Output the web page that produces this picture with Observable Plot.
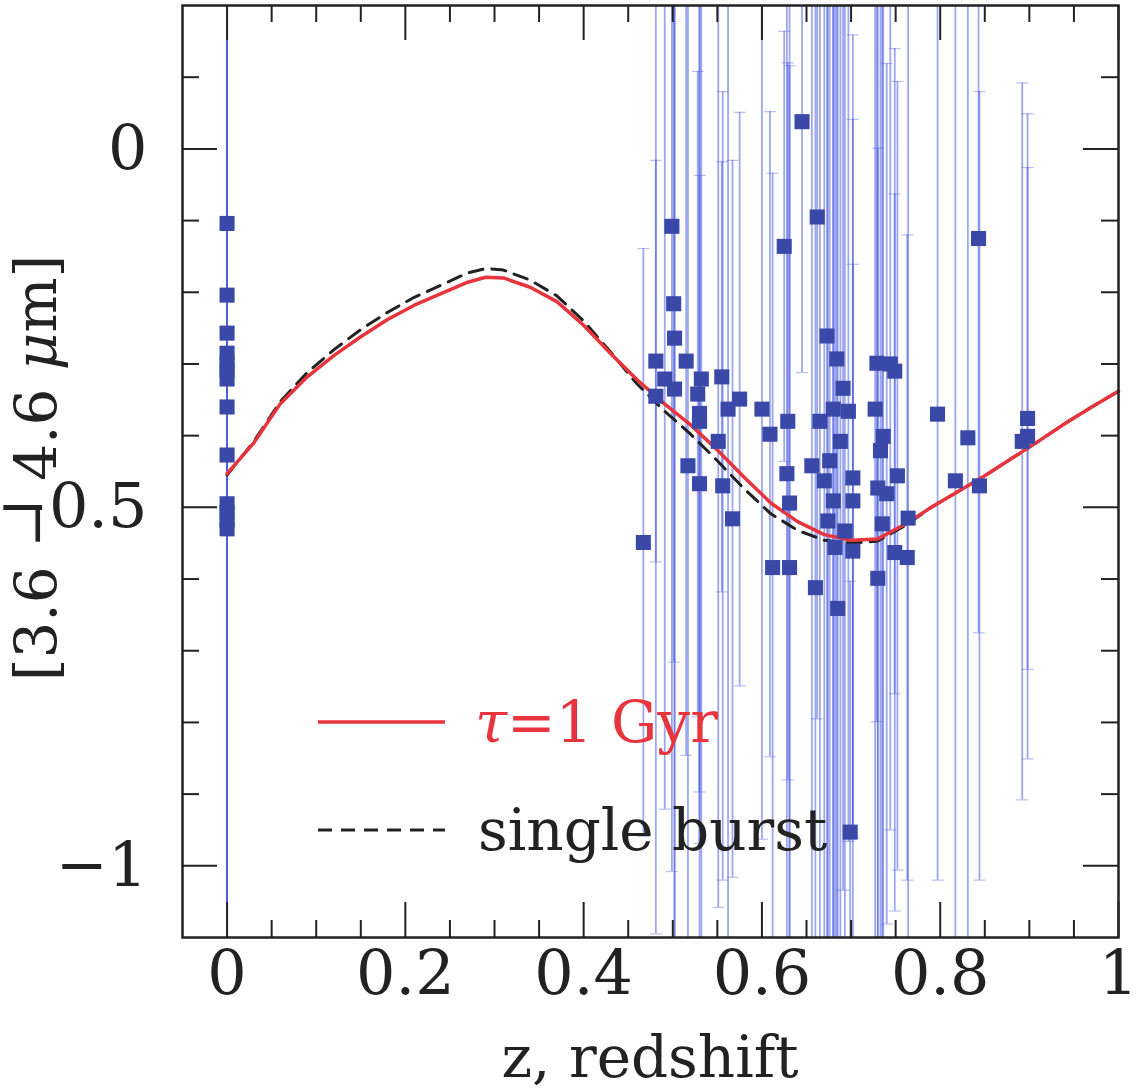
<!DOCTYPE html>
<html><head><meta charset="utf-8">
<script src="https://cdn.jsdelivr.net/npm/d3@7"></script>
<script src="https://cdn.jsdelivr.net/npm/@observablehq/plot@0.6"></script>
<style>body{margin:0;background:#fff}</style>
</head><body><div id="chart"></div>
<script>
// Model tracks
const zModel      = [0, 0.03, 0.06, 0.09, 0.12, 0.15, 0.18, 0.21, 0.24, 0.27, 0.29, 0.31, 0.34, 0.37, 0.40, 0.43, 0.46, 0.49, 0.52, 0.55, 0.58, 0.61, 0.64, 0.67, 0.70, 0.73, 0.76, 0.79, 0.82, 0.85, 0.88, 0.91, 0.94, 0.97, 1.00];
const tau1Gyr     = [-0.453, -0.41, -0.355, -0.318, -0.288, -0.262, -0.238, -0.218, -0.202, -0.186, -0.179, -0.180, -0.193, -0.213, -0.246, -0.285, -0.322, -0.355, -0.385, -0.420, -0.458, -0.494, -0.520, -0.538, -0.546, -0.544, -0.524, -0.500, -0.478, -0.456, -0.432, -0.408, -0.383, -0.360, -0.338];
const singleBurst = [-0.455, -0.408, -0.352, -0.312, -0.280, -0.252, -0.228, -0.207, -0.190, -0.173, -0.167, -0.169, -0.183, -0.205, -0.240, -0.283, -0.328, -0.365, -0.398, -0.435, -0.474, -0.509, -0.532, -0.546, -0.550, -0.547, -0.526, -0.500, -0.478, -0.456, -0.432, -0.408, -0.383, -0.360, -0.338];

// Galaxies: redshift, [3.6]-[4.6] colour, error
const pointZ = [
  0,0,0,0,0,0,0,0,0,0,0,0,0,
  0.467,0.481,0.481,0.491,0.499,0.501,0.502,0.502,0.515,0.517,
  0.530,0.532,0.528,0.530,0.530,0.551,0.555,0.556,0.562,0.567,
  0.575,0.600,0.609,0.625,0.629,0.628,0.631,0.612,0.631,0.645,
  0.656,0.660,0.662,0.673,0.684,0.685,0.691,0.680,0.697,0.676,
  0.702,0.702,0.680,0.693,0.682,0.702,0.699,0.665,0.670,0.688,0.674,
  0.729,0.744,0.749,0.727,0.736,0.733,0.752,0.730,0.740,0.735,
  0.764,0.749,0.763,0.730,0.797,0.831,0.817,0.844,0.843,0.898,0.898,0.892
];
const pointColor = [
  -0.104,-0.204,-0.257,-0.285,-0.299,-0.308,-0.321,-0.360,-0.427,-0.495,-0.507,-0.518,-0.530,
  -0.549,-0.296,-0.345,-0.321,-0.108,-0.216,-0.264,-0.335,-0.296,-0.442,
  -0.369,-0.321,-0.342,-0.380,-0.467,-0.408,-0.318,-0.470,-0.363,-0.516,
  -0.349,-0.363,-0.398,-0.136,-0.380,-0.453,-0.494,-0.584,-0.584,0.038,
  -0.442,-0.612,-0.095,-0.261,-0.293,-0.641,-0.334,-0.363,-0.366,-0.435,
  -0.459,-0.491,-0.491,-0.533,-0.556,-0.561,-0.953,-0.380,-0.463,-0.408,-0.519,
  -0.299,-0.300,-0.310,-0.363,-0.401,-0.421,-0.456,-0.473,-0.481,-0.523,
  -0.515,-0.563,-0.570,-0.599,-0.370,-0.403,-0.463,-0.470,-0.125,-0.376,-0.401,-0.408
];
const pointErr = [
  1.4,1.3,1.3,1.4,1.3,1.3,1.4,1.3,1.4,1.3,1.3,1.4,1.3,
  0.41,0.28,0.75,0.60,0.90,0.50,0.95,0.80,0.55,0.70,
  0.60,0.90,0.45,1.00,0.43,0.65,0.30,0.55,0.80,0.50,
  0.40,0.60,0.45,0.30,0.50,0.70,0.90,0.55,0.70,0.35,
  0.80,1.00,0.70,1.00,0.90,1.10,0.70,1.20,0.60,0.90,
  0.50,0.65,1.00,0.80,1.20,0.40,0.35,0.90,1.00,0.80,1.10,
  0.50,0.65,0.45,0.90,0.80,1.00,0.55,0.75,0.60,0.90,
  0.75,0.50,0.45,0.60,0.65,0.90,0.75,0.55,0.55,0.35,0.45,0.50
];

const xMajorTicks = [0, 0.2, 0.4, 0.6, 0.8, 1];
const xMinorTicks = [0.05, 0.1, 0.15, 0.25, 0.3, 0.35, 0.45, 0.5, 0.55, 0.65, 0.7, 0.75, 0.85, 0.9, 0.95];
const yMajorTicks = [0, -0.5, -1];
const yMinorTicks = [0.1, -0.1, -0.2, -0.3, -0.4, -0.6, -0.7, -0.8, -0.9];

const W = 1136, H = 1090;
const M = {left: 182, right: 18, top: 5, bottom: 153};
const innerW = W - M.left - M.right, innerH = H - M.top - M.bottom;
const FONT = "DejaVu Serif";
const fmt = d3.format("~g");

const model = zModel.map((z, i) => ({z, tau: tau1Gyr[i], burst: singleBurst[i]}));
const points = pointZ.map((z, i) => ({z, c: pointColor[i], e: pointErr[i]}));

const cap = {draw(ctx, size) { const w = Math.sqrt(size / Math.PI); ctx.moveTo(-w, 0); ctx.lineTo(w, 0); }};
const barColor = "#4c5ee0";

const minorLen = 17, majorLen = 35;

const plot = Plot.plot({
  width: W, height: H,
  marginLeft: M.left, marginRight: M.right, marginTop: M.top, marginBottom: M.bottom,
  x: {domain: [-0.05, 1], axis: null},
  y: {domain: [-1.1, 0.2], axis: null},
  style: {fontFamily: FONT, background: "#fff", color: "#222"},
  marks: [
    Plot.ruleX(points, {x: "z", y1: d => d.c - d.e, y2: d => d.c + d.e, stroke: barColor, strokeOpacity: 0.55, strokeWidth: 1.8, clip: true}),
    Plot.dot(points, {x: "z", y: d => d.c + d.e, symbol: cap, r: 6, stroke: barColor, strokeOpacity: 0.4, strokeWidth: 1.2, fill: "none", clip: true}),
    Plot.dot(points, {x: "z", y: d => d.c - d.e, symbol: cap, r: 6, stroke: barColor, strokeOpacity: 0.4, strokeWidth: 1.2, fill: "none", clip: true}),
    Plot.line(model, {x: "z", y: "burst", stroke: "#222", strokeWidth: 3, strokeDasharray: "14,9"}),
    Plot.line(model, {x: "z", y: "tau", stroke: "#e8343c", strokeWidth: 3.5}),
    Plot.dot(points, {x: "z", y: "c", symbol: "square", r: 8.5, fill: "#3a48a8"}),
    // ticks on all four sides, pointing inward
    Plot.ruleX(xMinorTicks, {x: d => d, insetTop: innerH - minorLen, stroke: "#222", strokeWidth: 2}),
    Plot.ruleX(xMinorTicks, {x: d => d, insetBottom: innerH - minorLen, stroke: "#222", strokeWidth: 2}),
    Plot.ruleX(xMajorTicks, {x: d => d, insetTop: innerH - majorLen, stroke: "#222", strokeWidth: 2}),
    Plot.ruleX(xMajorTicks, {x: d => d, insetBottom: innerH - majorLen, stroke: "#222", strokeWidth: 2}),
    Plot.ruleY(yMinorTicks, {y: d => d, insetRight: innerW - minorLen, stroke: "#222", strokeWidth: 2}),
    Plot.ruleY(yMinorTicks, {y: d => d, insetLeft: innerW - minorLen, stroke: "#222", strokeWidth: 2}),
    Plot.ruleY(yMajorTicks, {y: d => d, insetRight: innerW - majorLen, stroke: "#222", strokeWidth: 2}),
    Plot.ruleY(yMajorTicks, {y: d => d, insetLeft: innerW - majorLen, stroke: "#222", strokeWidth: 2}),
    Plot.frame({stroke: "#222", strokeWidth: 2.5}),
    Plot.axisX(xMajorTicks, {tickSize: 0, tickPadding: 12, fontSize: 62, label: null, fill: "#222", tickFormat: fmt}),
    Plot.axisY(yMajorTicks, {tickSize: 0, tickPadding: 35, fontSize: 62, label: null, fill: "#222", tickFormat: fmt})
  ]
});

const svg = d3.select(plot);
// axis titles
svg.append("text")
  .attr("x", M.left + innerW / 2).attr("y", 1077)
  .attr("text-anchor", "middle").attr("font-family", FONT).attr("font-size", 58).attr("fill", "#222")
  .text("z, redshift");
const yl = svg.append("text")
  .attr("transform", "translate(36,468) rotate(-90)")
  .attr("text-anchor", "middle").attr("dominant-baseline", "central")
  .attr("font-family", FONT).attr("font-size", 58).attr("fill", "#222");
yl.append("tspan").text("[3.6 \u2212 4.6 ");
yl.append("tspan").attr("font-style", "italic").text("\u03bc");
yl.append("tspan").text("m]");

// legend
const lg = svg.append("g").attr("font-family", FONT).attr("font-size", 58).attr("text-anchor", "start");
lg.append("line").attr("x1", 318).attr("x2", 445).attr("y1", 722).attr("y2", 722)
  .attr("stroke", "#e8343c").attr("stroke-width", 3.5);
const lt = lg.append("text").attr("x", 475).attr("y", 742).attr("fill", "#e8343c");
lt.append("tspan").attr("font-style", "italic").text("\u03c4");
lt.append("tspan").text("=1 Gyr");
lg.append("line").attr("x1", 318).attr("x2", 445).attr("y1", 830).attr("y2", 830)
  .attr("stroke", "#222").attr("stroke-width", 3).attr("stroke-dasharray", "14,9");
lg.append("text").attr("x", 478).attr("y", 850).attr("fill", "#222").text("single burst");

document.getElementById("chart").appendChild(plot);
</script>
</body></html>
